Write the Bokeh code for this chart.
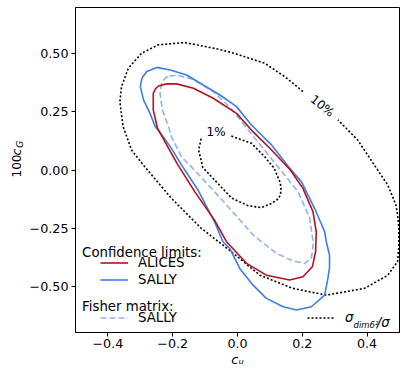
import math
from bokeh.plotting import figure
from bokeh.models import Range1d, FixedTicker, Legend, LegendItem, Label
from bokeh.layouts import row
from bokeh.core.properties import value
from bokeh.embed import file_html
from bokeh.resources import INLINE

# ---------------- data ----------------
# 10% contour of sigma_dim6^2 / sigma (dotted, open where the label sits)
ten_x = [0.202, 0.146, 0.084, -0.018, -0.071, -0.163, -0.245, -0.296, -0.337, -0.358,
         -0.363, -0.353, -0.327, -0.291, -0.204, -0.112, -0.019, 0.069, 0.171, 0.274,
         0.392, 0.464, 0.494, 0.498, 0.498, 0.494, 0.489, 0.464, 0.422, 0.371, 0.310]
ten_y = [0.338, 0.402, 0.460, 0.506, 0.524, 0.549, 0.539, 0.503, 0.438, 0.359,
         0.294, 0.187, 0.086, 0.022, -0.122, -0.251, -0.352, -0.453, -0.510, -0.539,
         -0.510, -0.453, -0.395, -0.330, -0.250, -0.194, -0.151, -0.065, 0.022, 0.129, 0.216]

# 1% contour (dotted, open where the label sits)
one_x = [-0.019, 0.043, 0.084, 0.113, 0.132, 0.135, 0.128, 0.105, 0.074, 0.033,
         -0.018, -0.050, -0.107, -0.120, -0.112]
one_y = [0.146, 0.115, 0.057, 0.008, -0.055, -0.090, -0.122, -0.144, -0.162, -0.154,
         -0.121, -0.074, 0.011, 0.086, 0.137]

# ALICES confidence limit
alices_x = [-0.218, -0.188, -0.136, -0.075, -0.003, 0.043, 0.105, 0.163, 0.202, 0.233,
            0.243, 0.241, 0.231, 0.202, 0.161, 0.089, 0.028, -0.034, -0.071, -0.132,
            -0.184, -0.204, -0.247, -0.260, -0.260, -0.253, -0.244, -0.218]
alices_y = [0.371, 0.371, 0.352, 0.309, 0.244, 0.172, 0.086, 0.000, -0.079, -0.180,
            -0.266, -0.352, -0.417, -0.460, -0.474, -0.453, -0.402, -0.309, -0.216, -0.093,
            0.022, 0.072, 0.180, 0.259, 0.330, 0.350, 0.362, 0.371]

# SALLY confidence limit
sally_x = [-0.249, -0.208, -0.157, -0.106, -0.054, -0.003, 0.043, 0.105, 0.160, 0.197,
           0.238, 0.269, 0.274, 0.284, 0.284, 0.279, 0.269, 0.228, 0.182, 0.141,
           0.089, 0.048, 0.007, -0.024, -0.045, -0.071, -0.122, -0.173, -0.204, -0.230,
           -0.254, -0.270, -0.290, -0.300, -0.295, -0.280, -0.249]
sally_y = [0.442, 0.431, 0.409, 0.366, 0.323, 0.273, 0.194, 0.108, 0.010, -0.050,
           -0.165, -0.266, -0.309, -0.366, -0.420, -0.467, -0.539, -0.589, -0.603, -0.589,
           -0.553, -0.496, -0.424, -0.338, -0.309, -0.223, -0.086, 0.022, 0.093, 0.144,
           0.187, 0.244, 0.302, 0.359, 0.395, 0.424, 0.442]

# SALLY Fisher matrix
fisher_x = [-0.210, -0.188, -0.136, -0.075, -0.018, 0.058, 0.133, 0.187, 0.223, 0.234,
            0.228, 0.207, 0.171, 0.120, 0.048, -0.006, -0.071, -0.140, -0.173, -0.204,
            -0.213, -0.232, -0.239, -0.234, -0.222, -0.210]
fisher_y = [0.404, 0.409, 0.390, 0.338, 0.262, 0.129, 0.000, -0.093, -0.208, -0.315,
            -0.381, -0.402, -0.392, -0.359, -0.280, -0.194, -0.093, 0.010, 0.057, 0.144,
            0.187, 0.259, 0.330, 0.374, 0.398, 0.404]

# contour labels
clabel_x = [-0.066, 0.262]
clabel_y = [0.165, 0.276]
clabel_text = ["1%", "10%"]
clabel_angle_deg = [0, -39]

xticks = [-0.4, -0.2, 0.0, 0.2, 0.4]
xtick_labels = ["\u22120.4", "\u22120.2", "0.0", "0.2", "0.4"]
yticks = [-0.5, -0.25, 0.0, 0.25, 0.5]
ytick_labels = ["\u22120.50", "\u22120.25", "0.00", "0.25", "0.50"]

# y-axis title pieces "100", italic "c", subscript italic "G"
ytitle_text = ["100", "c", "G"]
ytitle_style = ["normal", "italic", "italic"]
ytitle_size = ["12px", "12.5px", "9.5px"]
ytitle_x = [15.5, 15.6, 18.6]          # strip pixels from left
ytitle_y = [189.6, 205.5, 214.1]       # strip pixels from bottom

# ---------------- styling ----------------
RED = "#b5111f"
BLUE = "#3d7de6"
LIGHT = "#8fb3f0"
FONT = "DejaVu Sans"

# ---------------- main plot ----------------
p = figure(width=381, height=370, x_range=Range1d(-0.5, 0.5), y_range=Range1d(-0.7, 0.7),
           output_backend="svg", toolbar_location=None, title=None,
           min_border_left=47, min_border_right=8, min_border_top=7, min_border_bottom=38)
p.background_fill_color = "white"
p.border_fill_color = "white"
p.outline_line_color = "black"
p.outline_line_width = 1
p.xgrid.visible = False
p.ygrid.visible = False

for ax, ticks, labels in ((p.xaxis[0], xticks, xtick_labels), (p.yaxis[0], yticks, ytick_labels)):
    ax.ticker = FixedTicker(ticks=ticks)
    ax.major_label_overrides = {t: l for t, l in zip(ticks, labels)}
    ax.major_tick_out = 4
    ax.major_tick_in = 0
    ax.minor_tick_out = 0
    ax.minor_tick_in = 0
    ax.major_tick_line_color = "black"
    ax.axis_line_color = "black"
    ax.major_label_text_font = FONT
    ax.major_label_text_font_size = "12.7px"
    ax.major_label_text_color = "black"
p.xaxis.major_label_standoff = 2
p.yaxis.major_label_standoff = 3

# x-axis title: c with subscript u
p.xaxis.axis_label = "c\u1d64"
p.xaxis.axis_label_text_font = FONT
p.xaxis.axis_label_text_font_style = "italic"
p.xaxis.axis_label_text_font_size = "13px"
p.xaxis.axis_label_text_color = "black"
p.xaxis.axis_label_standoff = 1

r_ten = p.line(ten_x, ten_y, line_color="black", line_width=1.6, line_dash="2 2")
r_one = p.line(one_x, one_y, line_color="black", line_width=1.6, line_dash="2 2")
r_fisher = p.line(fisher_x, fisher_y, line_color=LIGHT, line_width=1.6, line_dash="6 3")
r_sally = p.line(sally_x, sally_y, line_color=BLUE, line_width=1.6)
r_alices = p.line(alices_x, alices_y, line_color=RED, line_width=1.6)

p.text(x=clabel_x, y=clabel_y, text=clabel_text,
       angle=[math.radians(a) for a in clabel_angle_deg],
       text_font=value(FONT), text_font_size=value("12px"), text_color="black",
       text_align="center", text_baseline="middle")

def make_legend(items, loc, italic=False):
    lg = Legend(items=items, location=loc, glyph_width=28, glyph_height=17,
                label_height=17, label_standoff=10, spacing=0, padding=0, margin=0,
                border_line_color=None, background_fill_alpha=0,
                label_text_font=FONT, label_text_font_size="13.3px",
                label_text_color="black")
    if italic:
        lg.label_text_font_style = "italic"
    return lg

p.add_layout(make_legend([LegendItem(label="ALICES", renderers=[r_alices]),
                          LegendItem(label="SALLY", renderers=[r_sally])], (25, 44)))
p.add_layout(make_legend([LegendItem(label="SALLY", renderers=[r_fisher])], (25, 6)))
p.add_layout(make_legend([LegendItem(label="\u03c3", renderers=[r_ten])], (232, 6), italic=True))

def add_label(fig, text, x, y, size, style="normal"):
    fig.add_layout(Label(x=x, y=y, x_units="screen", y_units="screen", text=text,
                         text_font=FONT, text_font_size=size, text_font_style=style,
                         text_color="black", text_align="left", text_baseline="alphabetic"))

add_label(p, "Confidence limits:", 6.6, 79.7, "13.3px")
add_label(p, "Fisher matrix:", 6.6, 26, "13.3px")
add_label(p, "dim6\u00b2", 278, 7.7, "8.5px", "italic")
add_label(p, "/\u03c3", 301.3, 10.3, "13.3px", "italic")

# ---------------- y-axis title strip (pixel-unit ranges) ----------------
ylab = figure(width=26, height=370, x_range=Range1d(0, 26), y_range=Range1d(0, 370),
              output_backend="svg", toolbar_location=None, title=None,
              x_axis_type=None, y_axis_type=None,
              min_border_left=0, min_border_right=0, min_border_top=0, min_border_bottom=0)
ylab.outline_line_color = None
ylab.background_fill_color = "white"
ylab.border_fill_color = "white"
ylab.xgrid.visible = False
ylab.ygrid.visible = False

for t, st, sz, xx, yy in zip(ytitle_text, ytitle_style, ytitle_size, ytitle_x, ytitle_y):
    ylab.text(x=[xx], y=[yy], text=[t], angle=math.pi / 2,
              text_font=value(FONT), text_font_size=value(sz), text_font_style=st,
              text_color="black", text_align="center", text_baseline="middle")

layout = row(ylab, p, spacing=0)

open("out.html", "w").write(file_html(layout, INLINE))
